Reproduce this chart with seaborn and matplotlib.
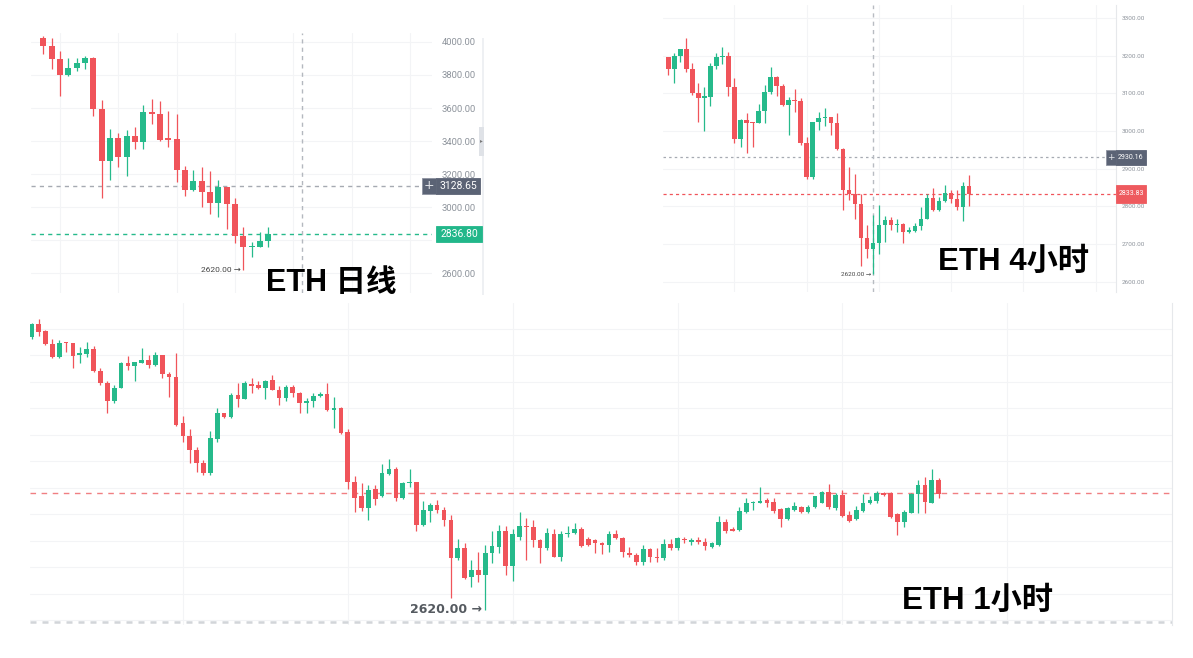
import numpy as np
import pandas as pd
import matplotlib
matplotlib.use("Agg")
import matplotlib.pyplot as plt
import seaborn as sns
from matplotlib.patches import Rectangle

# ---------------- data ----------------
# ETH daily
d_open = [4024, 3976, 3899, 3798, 3842, 3871, 3903, 3596, 3279, 3420, 3305, 3430, 3396, 3578,
          3564, 3416, 3412, 3224, 3103, 3159, 3093, 3022, 3119, 3018, 2826, 2756, 2760, 2794]
d_high = [4036, 4022, 3944, 3903, 3903, 3917, 3911, 3650, 3475, 3450, 3467, 3487, 3618, 3654,
          3642, 3582, 3562, 3250, 3224, 3244, 3218, 3164, 3121, 3056, 2881, 2790, 2850, 2881]
d_low = [3927, 3835, 3675, 3794, 3826, 3836, 3553, 3053, 3164, 3244, 3190, 3352, 3352, 3503,
         3400, 3365, 3150, 3067, 3100, 3002, 2958, 2941, 2867, 2780, 2620, 2699, 2756, 2756]
d_close = [3976, 3895, 3800, 3842, 3871, 3903, 3596, 3279, 3420, 3305, 3430, 3396, 3578, 3562,
           3408, 3408, 3224, 3103, 3159, 3089, 3022, 3119, 3018, 2826, 2756, 2764, 2794, 2836.80]

# ETH 4h
h4_open = [3196, 3164, 3199, 3217, 3164, 3100, 3089, 3091, 3173, 3196, 3200, 3118, 2980, 3029, 3024,
           3021, 3054, 3104, 3143, 3120, 3069, 3082, 3081, 2969, 2877, 3023, 3036, 3038, 3021, 2953,
           2844, 2832, 2806, 2716, 2686, 2702, 2750, 2764, 2750, 2753, 2733, 2735, 2748, 2768, 2823,
           2791, 2815, 2835, 2819, 2798, 2854]
h4_high = [3197, 3208, 3217, 3248, 3180, 3127, 3116, 3180, 3208, 3222, 3209, 3140, 3031, 3047, 3024,
           3072, 3122, 3169, 3146, 3125, 3090, 3112, 3087, 2985, 3023, 3050, 3060, 3038, 3047, 2954,
           2904, 2885, 2833, 2751, 2777, 2805, 2776, 2773, 2768, 2755, 2746, 2755, 2798, 2833, 2850,
           2826, 2857, 2844, 2844, 2866, 2884]
h4_low = [3149, 3128, 3184, 3158, 3096, 3025, 3001, 3067, 3165, 3178, 3093, 2969, 2959, 2943, 2957,
          3021, 3021, 3098, 3093, 3066, 2990, 3051, 2963, 2872, 2872, 3003, 3014, 2990, 2950, 2791,
          2817, 2767, 2641, 2663, 2620, 2675, 2707, 2738, 2733, 2704, 2731, 2733, 2738, 2768, 2789,
          2789, 2813, 2810, 2791, 2762, 2800]
h4_close = [3164, 3199, 3217, 3164, 3100, 3088, 3093, 3173, 3196, 3200, 3118, 2980, 3029, 3021, 3021,
            3054, 3104, 3143, 3120, 3069, 3082, 3080, 2969, 2877, 3023, 3036, 3038, 3021, 2953, 2844,
            2832, 2806, 2716, 2686, 2702, 2750, 2764, 2750, 2753, 2733, 2737, 2748, 2768, 2823, 2791,
            2815, 2835, 2819, 2798, 2854, 2833.83]

# ETH 1h
h1_open = [3134, 3159, 3147, 3122, 3097, 3125, 3123, 3101, 3103, 3112, 3071, 3049, 3015, 3039, 3085,
           3080, 3086, 3092, 3082, 3100, 3065, 3060, 2972, 2948, 2922, 2898, 2878, 2942, 2991, 2983,
           3026, 3018, 3046, 3044, 3038, 3054, 3035, 3019, 3040, 3030, 3011, 3015, 3024, 3027, 2998,
           3000, 2955, 2861, 2834, 2813, 2848, 2834, 2876, 2885, 2832, 2859, 2861, 2780, 2807, 2818,
           2809, 2790, 2717, 2736, 2682, 2695, 2686, 2727, 2739, 2769, 2703, 2758, 2778, 2777, 2752,
           2736, 2763, 2720, 2763, 2765, 2772, 2753, 2752, 2747, 2742, 2763, 2755, 2728, 2724, 2711,
           2734, 2719, 2717, 2744, 2736, 2754, 2749, 2752, 2749, 2738, 2742, 2786, 2772, 2771, 2805,
           2821, 2822, 2827, 2824, 2810, 2791, 2809, 2815, 2805, 2814, 2822, 2843, 2812, 2837, 2799,
           2791, 2807, 2821, 2826, 2841, 2840, 2801, 2786, 2803, 2839, 2856, 2822, 2866]
h1_high = [3161, 3168, 3149, 3131, 3129, 3125, 3123, 3116, 3125, 3118, 3076, 3052, 3044, 3087, 3099,
           3088, 3114, 3101, 3107, 3101, 3069, 3105, 2986, 2961, 2928, 2903, 2958, 3000, 2992, 3029,
           3048, 3051, 3057, 3052, 3054, 3063, 3042, 3044, 3044, 3032, 3019, 3029, 3032, 3049, 3021,
           3002, 2961, 2873, 2859, 2856, 2856, 2895, 2904, 2890, 2862, 2886, 2862, 2826, 2821, 2827,
           2814, 2799, 2753, 2747, 2715, 2730, 2742, 2768, 2780, 2778, 2772, 2805, 2793, 2790, 2753,
           2774, 2772, 2768, 2778, 2783, 2776, 2757, 2753, 2749, 2768, 2771, 2757, 2738, 2727, 2742,
           2736, 2736, 2753, 2753, 2758, 2758, 2755, 2757, 2755, 2749, 2797, 2791, 2776, 2815, 2832,
           2826, 2851, 2831, 2832, 2812, 2814, 2824, 2816, 2818, 2835, 2845, 2858, 2840, 2846, 2807,
           2816, 2839, 2834, 2845, 2843, 2843, 2803, 2809, 2841, 2865, 2870, 2885, 2868]
h1_low = [3132, 3136, 3120, 3096, 3096, 3107, 3076, 3085, 3098, 3069, 3044, 2991, 3010, 3038, 3073,
          3052, 3085, 3076, 3080, 3057, 3022, 2966, 2937, 2897, 2881, 2875, 2875, 2937, 2982, 2982,
          3003, 3017, 3030, 3036, 3017, 3034, 3007, 3015, 3021, 2991, 2992, 3002, 3021, 2996, 2963,
          2952, 2848, 2805, 2807, 2790, 2818, 2833, 2874, 2826, 2830, 2851, 2769, 2779, 2786, 2802,
          2778, 2642, 2715, 2679, 2663, 2672, 2620, 2709, 2728, 2686, 2675, 2752, 2715, 2739, 2708,
          2733, 2719, 2713, 2758, 2763, 2738, 2741, 2727, 2726, 2730, 2753, 2719, 2719, 2705, 2705,
          2711, 2711, 2715, 2733, 2733, 2746, 2742, 2744, 2733, 2736, 2741, 2766, 2768, 2769, 2803,
          2809, 2821, 2815, 2803, 2776, 2790, 2807, 2803, 2802, 2812, 2821, 2810, 2809, 2796, 2785,
          2790, 2805, 2820, 2821, 2834, 2793, 2761, 2776, 2802, 2803, 2802, 2821, 2832]
h1_close = [3159, 3145, 3122, 3097, 3124, 3123, 3099, 3104, 3112, 3071, 3048, 3015, 3039, 3085, 3080,
            3087, 3092, 3082, 3100, 3065, 3060, 2969, 2948, 2922, 2898, 2878, 2944, 2991, 2983, 3026,
            3018, 3049, 3042, 3038, 3052, 3035, 3019, 3040, 3030, 3010, 3015, 3024, 3027, 2997, 3000,
            2953, 2862, 2832, 2813, 2846, 2829, 2878, 2885, 2831, 2860, 2862, 2780, 2809, 2818, 2809,
            2790, 2717, 2736, 2680, 2695, 2686, 2727, 2741, 2769, 2703, 2763, 2778, 2777, 2751, 2736,
            2765, 2720, 2763, 2765, 2772, 2741, 2742, 2747, 2742, 2763, 2755, 2730, 2724, 2711, 2734,
            2719, 2717, 2744, 2736, 2755, 2751, 2752, 2749, 2741, 2746, 2786, 2768, 2769, 2807, 2821,
            2824, 2826, 2821, 2807, 2791, 2812, 2816, 2805, 2814, 2834, 2843, 2814, 2837, 2797, 2788,
            2809, 2822, 2827, 2841, 2837, 2796, 2786, 2805, 2839, 2856, 2824, 2865, 2839]

d_ticks = [2600, 2800, 3000, 3200, 3400, 3600, 3800, 4000]
h4_ticks = [2600, 2700, 2800, 2900, 3000, 3100, 3200, 3300]
h1_grid = [2600, 2650, 2700, 2750, 2800, 2850, 2900, 2950, 3000, 3050, 3100, 3150]

d_marked, h4_marked, h1_line = 3128.65, 2930.16, 2840.6
low_price = 2620.00
titles = ["ETH 日线", "ETH 4小时", "ETH 1小时"]

# ---------------- style ----------------
sns.set_theme(style="white")
plt.rcParams["font.family"] = ["Roboto", "DejaVu Sans"]
UP, DN = "#26ba8b", "#f0545a"
GRID = "#f3f4f6"

W, H = 1193, 658
fig = plt.figure(figsize=(W / 100, H / 100), dpi=100)
fig.patch.set_facecolor("white")


def px_axes(x0, y0, x1, y1):
    return fig.add_axes([x0 / W, 1 - y1 / H, (x1 - x0) / W, (y1 - y0) / H])


def candles(ax, o, h, l, c, width, minh):
    df = pd.DataFrame({"open": o, "high": h, "low": l, "close": c})
    df["x"] = np.arange(len(df))
    up = df["close"] >= df["open"]
    cols = np.where(up, UP, DN)
    lo = df[["open", "close"]].min(axis=1)
    bh = np.maximum((df["close"] - df["open"]).abs(), minh)
    ax.vlines(df["x"], df["low"], df["high"], colors=cols, lw=0.9, zorder=3)
    ax.bar(df["x"], bh, bottom=lo, width=width, color=cols, lw=0, zorder=4)
    return df


def tag(ax, price, x0, w, h, text, fc, tc, fs, ec=None, family=None):
    yd = ax.transData.transform((0, price))[1]
    fig.add_artist(Rectangle((x0 / W, (yd - h / 2) / H), w / W, h / H,
                             transform=fig.transFigure, facecolor=fc,
                             edgecolor=ec or fc, lw=0.6, zorder=5))
    kw = {}
    if family:
        kw["family"] = family
    fig.text((x0 + w / 2) / W, yd / H, text, ha="center", va="center",
             color=tc, fontsize=fs, zorder=6, **kw)


ax1 = px_axes(31, 33, 432, 293)
ax2 = px_axes(663, 5, 1116, 292)
ax3 = px_axes(30, 303, 1172, 625)

# ---------- daily ----------
df1 = candles(ax1, d_open, d_high, d_low, d_close, 0.72, 4)
ax1.set_xlim(-1.48, 46.66)
ax1.set_ylim(2479, 4054.5)
ax1.set_yticks(d_ticks)
# the 2800.00 label sits under the green last-price tag in the reference
ax1.set_yticklabels(["" if v == 2800 else f"{v:.2f}" for v in d_ticks])
ax1.yaxis.tick_right()
ax1.set_xticks([2, 9, 16, 23, 30, 37, 44])
ax1.set_xticklabels([])
ax1.tick_params(axis="y", length=0, pad=7.2, labelsize=6.8, labelcolor="#8e949c")
ax1.tick_params(axis="x", length=0)
ax1.grid(True, color=GRID, lw=0.8)
sns.despine(ax=ax1, left=True, bottom=True, right=True, top=True)
ax1.axhline(d_marked, color="#a6aab2", lw=1, ls=(0, (3, 3)), zorder=2)
ax1.axhline(d_close[-1], color=UP, lw=1, ls=(0, (3, 3)), zorder=2)
ax1.axvline(31.06, color="#b4b8bf", lw=1, ls=(0, (3, 3)), zorder=2)
i_low = int(np.argmin(d_low))
ax1.annotate(f"{low_price:.2f} →", xy=(i_low, d_low[i_low]), xytext=(-1.5, 0),
             textcoords="offset points", ha="right", va="center", fontsize=6,
             color="#444444", family=["Roboto", "DejaVu Sans"])

# ---------- 4h ----------
df2 = candles(ax2, h4_open, h4_high, h4_low, h4_close, 0.75, 2)
ax2.set_xlim(-0.88, 74.39)
ax2.set_ylim(2573.2, 3334.5)
ax2.set_yticks(h4_ticks)
ax2.set_yticklabels([f"{v:.2f}" for v in h4_ticks])
ax2.yaxis.tick_right()
ax2.set_xticks([11, 23, 35, 47, 59, 71])
ax2.set_xticklabels([])
ax2.tick_params(axis="y", length=0, pad=4.3, labelsize=4.6, labelcolor="#8e949c")
ax2.tick_params(axis="x", length=0)
ax2.grid(True, color=GRID, lw=0.8)
sns.despine(ax=ax2, left=True, bottom=True, top=True, right=False)
ax2.spines["right"].set_color("#e6e8eb")
ax2.spines["right"].set_linewidth(0.8)
ax2.axhline(h4_marked, color="#a6aab2", lw=0.9, ls=(0, (2, 2.5)), zorder=2)
ax2.axhline(h4_close[-1], color=DN, lw=0.9, ls=(0, (2.5, 2.5)), zorder=2)
j_low = int(np.argmin(h4_low))
ax2.axvline(j_low, color="#b8bcc2", lw=1, ls=(0, (3, 3)), zorder=2)
ax2.annotate(f"{low_price:.2f} →", xy=(j_low, h4_low[j_low]), xytext=(-1, 0),
             textcoords="offset points", ha="right", va="center", fontsize=4.6,
             color="#444444", family=["Roboto", "DejaVu Sans"])

# ---------- 1h ----------
df3 = candles(ax3, h1_open, h1_high, h1_low, h1_close, 0.68, 1.3)
ax3.set_xlim(-0.25, 165.96)
ax3.set_ylim(2591.5, 3199)
ax3.set_yticks(h1_grid)
ax3.set_yticklabels([])
ax3.set_xticks([22, 46, 70, 94, 118, 142])
ax3.set_xticklabels([])
ax3.tick_params(length=0)
ax3.grid(True, color=GRID, lw=0.8)
sns.despine(ax=ax3, left=True, bottom=True, top=True, right=False)
ax3.spines["right"].set_color("#e6e8eb")
ax3.spines["right"].set_linewidth(0.8)
ax3.axhline(h1_line, color="#f07f82", lw=1, ls=(0, (4, 4)), zorder=2)
ax3.axhline(2597, color="#d2d5d9", lw=1.8, ls=(0, (2.4, 2.4)), zorder=2)
k_low = int(np.argmin(h1_low))
ax3.annotate(f"{low_price:.2f} →", xy=(k_low, h1_low[k_low]), xytext=(-2, 0),
             textcoords="offset points", ha="right", va="center", fontsize=9,
             fontweight="bold", color="#555a60", family=["DejaVu Sans"])

# ---------- price tags ----------
SLATE = "#5b6375"
tag(ax1, d_marked, 422, 14, 16, "+", SLATE, "#e3e6ea", 9, ec="#8d93a0", family=["DejaVu Sans"])
tag(ax1, d_marked, 436, 44, 16, f"{d_marked:.2f}", SLATE, "white", 7.5)
tag(ax1, d_close[-1], 436, 46, 16, f"{d_close[-1]:.2f}", "#22b78a", "white", 7.5)
tag(ax2, h4_marked, 1106, 10, 15, "+", SLATE, "#e3e6ea", 6.5, ec="#8d93a0", family=["DejaVu Sans"])
tag(ax2, h4_marked, 1116, 30, 15, f"{h4_marked:.2f}", SLATE, "white", 5)
tag(ax2, h4_close[-1], 1116, 30, 18, f"{h4_close[-1]:.2f}", "#ee5a5e", "white", 5)

# scroll strip beside the daily chart
fig.add_artist(Rectangle((481.5 / W, 1 - 295 / H), 2 / W, 257 / H, transform=fig.transFigure,
                         facecolor="#eef0f3", edgecolor="none", zorder=1))
fig.add_artist(Rectangle((479 / W, 1 - 156 / H), 5 / W, 29 / H, transform=fig.transFigure,
                         facecolor="#dfe2e7", edgecolor="none", zorder=1))
fig.text(481.5 / W, 1 - 141 / H, "▸", ha="center", va="center", fontsize=4,
         color="#777777", family=["DejaVu Sans"])

# ---------- titles ----------
tfam = ["Liberation Sans", "Noto Sans CJK SC"]
fig.text(266 / W, 1 - 291.5 / H, titles[0], ha="left", va="baseline", fontsize=22,
         fontweight="bold", color="black", family=tfam, zorder=7)
fig.text(938 / W, 1 - 269.5 / H, titles[1], ha="left", va="baseline", fontsize=22.5,
         fontweight="bold", color="black", family=tfam, zorder=7)
fig.text(901.5 / W, 1 - 608.5 / H, titles[2], ha="left", va="baseline", fontsize=22.5,
         fontweight="bold", color="black", family=tfam, zorder=7)

fig.savefig("out.png", dpi=100, facecolor="white")
